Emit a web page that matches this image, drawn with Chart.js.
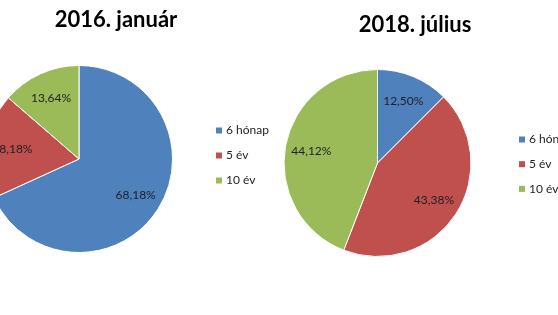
<!DOCTYPE html>
<html>
<head>
<meta charset="utf-8">
<script src="https://cdn.jsdelivr.net/npm/chart.js@4/dist/chart.umd.min.js"></script>
<style>
  html, body { margin: 0; padding: 0; background: #fff; }
  body { width: 558px; height: 315px; position: relative; overflow: hidden; }
  .box { position: absolute; top: 0; width: 330px; height: 315px; }
  #leftBox { left: -40px; }
  #rightBox { left: 250px; }
</style>
</head>
<body>
<div class="box" id="leftBox"><canvas id="chartJan" width="330" height="315"></canvas></div>
<div class="box" id="rightBox"><canvas id="chartJul" width="330" height="315"></canvas></div>
<script>
// data
const categories = ['6 hónap', '5 év', '10 év'];
const titleJan2016 = '2016. január';
const titleJul2018 = '2018. július';
const valuesJan2016 = [68.18, 18.18, 13.64];
const valuesJul2018 = [12.50, 43.38, 44.12];
const sliceColors = ['#4F81BD', '#C0504D', '#9BBB59'];

// percent labels on the slices, title and a side legend at fixed spots
const pieText = {
    id: 'pieText',
    afterDatasetsDraw(chart, args, opts) {
        const ctx = chart.ctx;
        const meta = chart.getDatasetMeta(0);
        const values = chart.data.datasets[0].data;
        ctx.save();
        ctx.font = '12px Lato';
        ctx.fillStyle = '#1e1e24';
        ctx.textAlign = 'center';
        ctx.textBaseline = 'middle';
        meta.data.forEach((arc, i) => {
            const p = arc.getProps(['x', 'y', 'startAngle', 'endAngle', 'outerRadius'], true);
            const mid = (p.startAngle + p.endAngle) / 2;
            const r = p.outerRadius * opts.labelRadius;
            const txt = values[i].toFixed(2).replace('.', ',') + '%';
            ctx.fillText(txt, p.x + Math.cos(mid) * r, p.y + Math.sin(mid) * r);
        });
        ctx.restore();
    },
    afterDraw(chart, args, opts) {
        const ctx = chart.ctx;
        ctx.save();
        ctx.fillStyle = '#000';
        ctx.font = 'bold 22px Lato';
        ctx.textAlign = 'center';
        ctx.textBaseline = 'middle';
        ctx.fillText(opts.title, opts.titleX, opts.titleY);

        ctx.font = '12px Lato';
        ctx.textAlign = 'left';
        const colors = chart.data.datasets[0].backgroundColor;
        chart.data.labels.forEach((lab, i) => {
            const y = opts.legendY + i * opts.legendGap;
            ctx.fillStyle = colors[i];
            ctx.fillRect(opts.legendX, y - 3, 6, 6);
            ctx.fillStyle = '#1e1e24';
            ctx.fillText(lab, opts.legendX + 10, y);
        });
        ctx.restore();
    }
};

function makePie(canvasId, values, title, padding, textPos) {
    return new Chart(document.getElementById(canvasId), {
        type: 'pie',
        data: {
            labels: categories,
            datasets: [{
                data: values,
                backgroundColor: sliceColors,
                borderColor: '#ffffff',
                borderWidth: 1
            }]
        },
        options: {
            responsive: false,
            animation: false,
            layout: { padding: padding },
            plugins: {
                legend: { display: false },
                title: { display: false },
                tooltip: { enabled: false },
                pieText: Object.assign({ title: title, labelRadius: 0.72 }, textPos)
            }
        },
        plugins: [pieText]
    });
}

makePie('chartJan', valuesJan2016, titleJan2016,
    { left: 25, right: 117, top: 65, bottom: 62 },
    { titleX: 156, titleY: 20, legendX: 256, legendY: 130.5, legendGap: 25 });

makePie('chartJul', valuesJul2018, titleJul2018,
    { left: 33.5, right: 108.5, top: 69, bottom: 58 },
    { titleX: 165, titleY: 25, legendX: 269, legendY: 139.5, legendGap: 24.7 });
</script>
</body>
</html>
